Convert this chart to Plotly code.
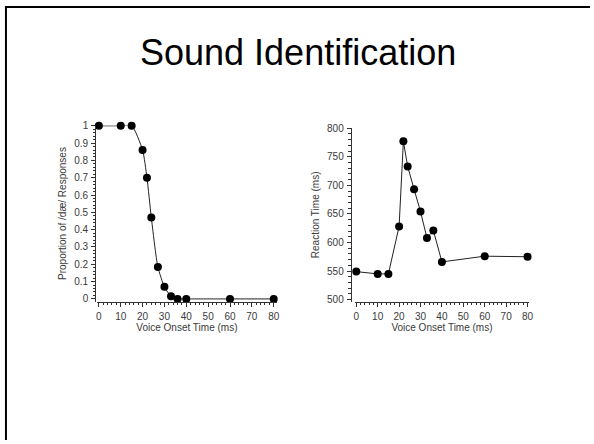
import plotly.graph_objects as go

W, H = 594, 444

# Data
vot = [0, 10, 15, 20, 22, 24, 27, 30, 33, 36, 40, 60, 80]
prop_da = [1.0, 1.0, 1.0, 0.86, 0.70, 0.47, 0.185, 0.07, 0.015, 0.0, 0.0, 0.0, 0.0]
rt_ms = [549, 545, 545, 628, 777, 733, 693, 654, 608, 621, 566, 576, 575]

# Tick settings (start, step)
x_tick0, x_dtick, x_minor = 0, 10, 2
prop_tick0, prop_dtick, prop_minor = 0, 0.1, 0.02
rt_tick0, rt_dtick, rt_minor = 500, 50, 10

title_text = "Sound Identification"
x_title = "Voice Onset Time (ms)"
y1_title = "Proportion of /dæ/ Responses"
y2_title = "Reaction Time (ms)"

FONT = "Liberation Sans, Arial, sans-serif"
TXT = "#3a3a3a"
AX = "#333333"

def px_x(p):
    return p / W

def px_y(p):
    return 1 - p / H

fig = go.Figure()

fig.add_trace(go.Scatter(
    x=vot, y=prop_da, mode="lines+markers",
    line=dict(color="#222222", width=1, shape="spline", smoothing=0.6),
    marker=dict(color="black", size=8),
    cliponaxis=False, xaxis="x", yaxis="y", showlegend=False,
))
fig.add_trace(go.Scatter(
    x=vot, y=rt_ms, mode="lines+markers",
    line=dict(color="#222222", width=1),
    marker=dict(color="black", size=8),
    cliponaxis=False, xaxis="x2", yaxis="y2", showlegend=False,
))

common_axis = dict(
    showgrid=False, zeroline=False, showline=True, linecolor=AX, linewidth=1,
    ticks="outside", ticklen=4, tickwidth=1, tickcolor=AX,
    tickfont=dict(family=FONT, size=10, color=TXT),
    title_font=dict(family=FONT, size=10, color=TXT),
    tickmode="linear", ticklabelstandoff=1,
)

def minor(step, start):
    return dict(dtick=step, tick0=start, ticks="outside", ticklen=2.5,
                tickwidth=1, tickcolor=AX, showgrid=False)

fig.update_layout(
    width=W, height=H,
    margin=dict(l=0, r=0, t=0, b=0),
    paper_bgcolor="white", plot_bgcolor="white",
    xaxis=dict(
        domain=[px_x(97), px_x(278)], range=[-0.77, 81.35], anchor="y",
        tick0=x_tick0, dtick=x_dtick, minor=minor(x_minor, x_tick0),
        title=dict(text=x_title, standoff=2),
        **common_axis,
    ),
    yaxis=dict(
        domain=[px_y(302.7), px_y(123)], range=[-0.0153, 1.0017],
        anchor="free", position=px_x(95),
        tick0=prop_tick0, dtick=prop_dtick, minor=minor(prop_minor, prop_tick0),
        title=dict(text=y1_title, standoff=4),
        **common_axis,
    ),
    xaxis2=dict(
        domain=[px_x(356.7), px_x(532.7)], range=[-0.74, 80.78], anchor="y2",
        tick0=x_tick0, dtick=x_dtick, minor=minor(x_minor, x_tick0),
        title=dict(text=x_title, standoff=2),
        **common_axis,
    ),
    yaxis2=dict(
        domain=[px_y(302.7), px_y(125.7)], range=[496.6, 800],
        anchor="free", position=px_x(352.7),
        tick0=rt_tick0, dtick=rt_dtick, minor=minor(rt_minor, rt_tick0),
        title=dict(text=y2_title, standoff=4),
        **common_axis,
    ),
    annotations=[dict(
        text=title_text, xref="paper", yref="paper",
        x=px_x(299.5), y=px_y(62), xanchor="center", yanchor="bottom",
        yshift=-9,
        showarrow=False, font=dict(family=FONT, size=36, color="black"),
    )],
    shapes=[
        dict(type="line", xref="paper", yref="paper",
             x0=px_x(5), x1=px_x(5), y0=0, y1=px_y(1),
             line=dict(color="black", width=2)),
        dict(type="line", xref="paper", yref="paper",
             x0=px_x(4), x1=1, y0=px_y(2), y1=px_y(2),
             line=dict(color="black", width=2)),
    ],
)

fig.write_html(
    "out.html",
    config={"displayModeBar": False},
    post_script="document.body.style.margin='0';document.body.style.overflow='hidden';",
)
